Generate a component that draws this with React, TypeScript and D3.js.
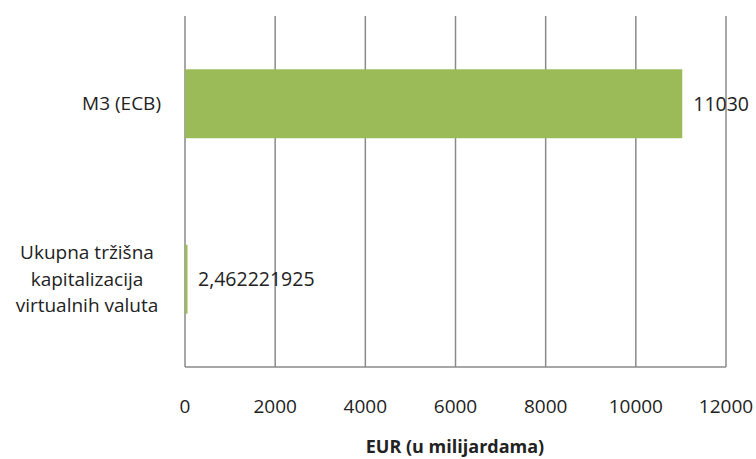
import React from "react";
import * as d3 from "d3";

const categories = ["M3 (ECB)", "Ukupna tržišna kapitalizacija virtualnih valuta"];
const categoryLines = [["M3 (ECB)"], ["Ukupna tržišna", "kapitalizacija", "virtualnih valuta"]];
const values = [11030, 2.462221925];
const valueLabels = ["11030", "2,462221925"];
const xTicks = [0, 2000, 4000, 6000, 8000, 10000, 12000];
const axisTitle = "EUR (u milijardama)";

export default function App() {
  const W = 756, H = 459;
  const left = 185, right = 726, top = 16, bottom = 367;
  const x = d3.scaleLinear().domain([0, 12000]).range([left, right]);
  const y = d3.scaleBand().domain(categories).range([top, bottom]).paddingInner(0.607).paddingOuter(0.3035);
  const font = "'Open Sans', sans-serif";
  const fs = 19;
  const color = "#222";
  return (
    <svg width={W} height={H} style={{ position: "absolute", left: 0, top: 0, background: "#fff" }}>
      {xTicks.map((t) => (
        <line key={t} x1={x(t)} x2={x(t)} y1={top} y2={bottom} stroke="#8a8a8a" strokeWidth={1.5} />
      ))}
      <line x1={left} x2={right} y1={bottom} y2={bottom} stroke="#8a8a8a" strokeWidth={1.5} />
      {categories.map((c, i) => (
        <rect key={c} x={x(0)} y={y(c)!} width={Math.max(x(values[i]) - x(0), 2.5)} height={y.bandwidth()} fill="#9BBB59" />
      ))}
      {categories.map((c, i) => (
        <text key={c} x={Math.max(x(values[i]), x(0) + 2) + 11} y={y(c)! + y.bandwidth() / 2} dy="0.35em" fontFamily={font} fontSize={fs + 0.5} fill={color}>
          {valueLabels[i]}
        </text>
      ))}
      {categories.map((c, i) => {
        const lines = categoryLines[i];
        const cy = y(c)! + y.bandwidth() / 2;
        const lh = 26.5;
        if (lines.length === 1) {
          return (
            <text key={c} x={161} y={cy} dy="0.35em" textAnchor="end" fontFamily={font} fontSize={fs} fill={color}>
              {lines[0]}
            </text>
          );
        }
        return (
          <text key={c} x={87} textAnchor="middle" fontFamily={font} fontSize={fs} fill={color}>
            {lines.map((l, k) => (
              <tspan key={k} x={87} y={cy + (k - (lines.length - 1) / 2) * lh} dy="0.35em">{l}</tspan>
            ))}
          </text>
        );
      })}
      {xTicks.map((t) => (
        <text key={t} x={x(t)} y={406} dy="0.35em" textAnchor="middle" fontFamily={font} fontSize={fs} fill={color}>
          {t}
        </text>
      ))}
      <text x={455} y={447} dy="0.35em" textAnchor="middle" fontFamily={font} fontSize={18} fontWeight="bold" fill={color}>
        {axisTitle}
      </text>
    </svg>
  );
}
